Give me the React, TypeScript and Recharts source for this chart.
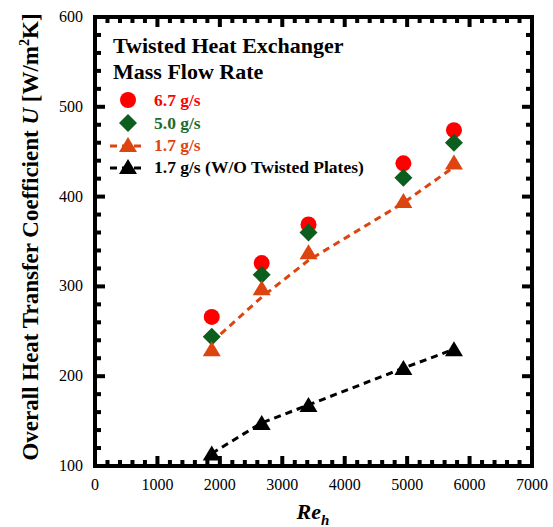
import React from 'react';
import { ComposedChart, Scatter, XAxis, YAxis } from 'recharts';

// ---- data ----
const reynolds = [1870, 2670, 3420, 4940, 5750];
const u67 = [266, 326, 369, 437, 474];
const u50 = [244, 313, 360, 421, 460];
const u17 = [230, 298, 338, 395, 438];
const u17Fit = [238, 288, 329, 393, 433];
const u17NoPlates = [114, 148, 168, 209, 230];

const xMajorTicks = [0, 1000, 2000, 3000, 4000, 5000, 6000, 7000];
const yMajorTicks = [100, 200, 300, 400, 500, 600];
const xMinorStep = 200;
const yMinorStep = 20;

const legendTitle = ['Twisted Heat Exchanger', 'Mass Flow Rate'];
const seriesNames = ['6.7 g/s', '5.0 g/s', '1.7 g/s', '1.7 g/s (W/O Twisted Plates)'];

// ---- styles ----
const FONT = '"Liberation Serif", "Times New Roman", serif';
const RED = '#ff0000';
const GREEN = '#0b5e1e';
const GREEN_TEXT = '#1d6b2a';
const ORANGE = '#dc4410';
const BLACK = '#000000';

const X_MIN = 0, X_MAX = 7000, Y_MIN = 100, Y_MAX = 600;

const buildTicks = (majors: number[], step: number) => {
  const out: number[] = [];
  const lo = majors[0];
  const hi = majors[majors.length - 1];
  for (let v = lo; v <= hi + 1e-9; v += step) out.push(Math.round(v));
  return out;
};
const xTicks = buildTicks(xMajorTicks, xMinorStep);
const yTicks = buildTicks(yMajorTicks, yMinorStep);

const toPoints = (ys: number[]) => reynolds.map((x, i) => ({ x, y: ys[i] }));
const pts67 = toPoints(u67);
const pts50 = toPoints(u50);
const pts17 = toPoints(u17);
const pts17Fit = toPoints(u17Fit);
const pts17No = toPoints(u17NoPlates);

// ---- markers ----
const Circle = ({ cx, cy, fill }: any) => <circle cx={cx} cy={cy} r={8} fill={fill} />;
const Diamond = ({ cx, cy, fill }: any) => (
  <polygon points={`${cx},${cy - 9} ${cx + 9},${cy} ${cx},${cy + 9} ${cx - 9},${cy}`} fill={fill} />
);
const Triangle = ({ cx, cy, fill }: any) => (
  <polygon points={`${cx},${cy - 8} ${cx + 9},${cy + 7} ${cx - 9},${cy + 7}`} fill={fill} />
);

// ---- tick labels ----
const isXMajor = (v: number) => xMajorTicks.includes(v);
const isYMajor = (v: number) => yMajorTicks.includes(v);

const BottomTick = (props: any) => {
  const { x, y, payload } = props;
  const v = payload.value;
  if (!isXMajor(v)) return <g />;
  return (
    <text x={x} y={y + 24} textAnchor="middle" fontFamily={FONT} fontSize={16} fill="#000">
      {v}
    </text>
  );
};
const LeftTick = (props: any) => {
  const { x, y, payload } = props;
  const v = payload.value;
  if (!isYMajor(v)) return <g />;
  return (
    <text x={x - 12} y={y + 5} textAnchor="end" fontFamily={FONT} fontSize={16} fill="#000">
      {v}
    </text>
  );
};

const axisLine = { stroke: '#000', strokeWidth: 4, strokeLinecap: 'square' as const };

// ---- layout ----
const W = 553;
const H = 527;
const MARGIN = { top: 16, right: 20, bottom: 0, left: 0 };
const Y_AXIS_W = 95;
const X_AXIS_H = 61;
const SIDE_AXIS = 1;
// plot rectangle produced by the settings above
const PLOT_L = MARGIN.left + Y_AXIS_W;
const PLOT_R = W - MARGIN.right - SIDE_AXIS;
const PLOT_T = MARGIN.top + SIDE_AXIS;
const PLOT_B = H - MARGIN.bottom - X_AXIS_H;
const px = (v: number) => PLOT_L + ((v - X_MIN) / (X_MAX - X_MIN)) * (PLOT_R - PLOT_L);
const py = (v: number) => PLOT_B - ((v - Y_MIN) / (Y_MAX - Y_MIN)) * (PLOT_B - PLOT_T);

const MAJOR_LEN = 10;
const MINOR_LEN = 6;
const TW = 4;

// inward tick marks on all four sides of the frame
const FrameTicks = () => (
  <g fill="#000">
    {xTicks.map((v) => {
      const len = isXMajor(v) ? MAJOR_LEN : MINOR_LEN;
      const x = px(v);
      return (
        <g key={`x${v}`}>
          <rect x={x - TW / 2} y={PLOT_B - len} width={TW} height={len} />
          <rect x={x - TW / 2} y={PLOT_T} width={TW} height={len} />
        </g>
      );
    })}
    {yTicks.map((v) => {
      const len = isYMajor(v) ? MAJOR_LEN : MINOR_LEN;
      const y = py(v);
      return (
        <g key={`y${v}`}>
          <rect x={PLOT_L} y={y - TW / 2} width={len} height={TW} />
          <rect x={PLOT_R - len} y={y - TW / 2} width={len} height={TW} />
        </g>
      );
    })}
  </g>
);

export default function App() {
  return (
    <div style={{ position: 'absolute', left: 0, top: 0, width: W, height: H, background: '#fff' }}>
      <ComposedChart width={W} height={H} margin={MARGIN}>
        <XAxis
          xAxisId="b"
          dataKey="x"
          type="number"
          orientation="bottom"
          domain={[X_MIN, X_MAX]}
          ticks={xTicks}
          interval={0}
          height={X_AXIS_H}
          tickSize={0}
          tickMargin={0}
          tickLine={false}
          axisLine={axisLine}
          tick={BottomTick}
        />
        <XAxis
          xAxisId="t"
          dataKey="x"
          type="number"
          orientation="top"
          domain={[X_MIN, X_MAX]}
          height={SIDE_AXIS}
          tickLine={false}
          tick={false}
          axisLine={axisLine}
        />
        <YAxis
          yAxisId="l"
          dataKey="y"
          type="number"
          orientation="left"
          domain={[Y_MIN, Y_MAX]}
          ticks={yTicks}
          interval={0}
          width={Y_AXIS_W}
          tickSize={0}
          tickMargin={0}
          tickLine={false}
          axisLine={axisLine}
          tick={LeftTick}
        />
        <YAxis
          yAxisId="r"
          dataKey="y"
          type="number"
          orientation="right"
          domain={[Y_MIN, Y_MAX]}
          width={SIDE_AXIS}
          tickLine={false}
          tick={false}
          axisLine={axisLine}
        />
        <Scatter
          name="frame"
          data={pts67}
          xAxisId="t"
          yAxisId="r"
          isAnimationActive={false}
          shape={() => <g />}
        />
        <Scatter
          name="1.7 g/s fit"
          data={pts17Fit}
          xAxisId="b"
          yAxisId="l"
          isAnimationActive={false}
          line={{ stroke: ORANGE, strokeWidth: 3, strokeDasharray: '7 5' }}
          lineType="joint"
          shape={() => <g />}
        />
        <Scatter
          name={seriesNames[3]}
          data={pts17No}
          xAxisId="b"
          yAxisId="l"
          isAnimationActive={false}
          line={{ stroke: BLACK, strokeWidth: 3, strokeDasharray: '7 5' }}
          lineType="joint"
          shape={(p: any) => <Triangle cx={p.cx} cy={p.cy} fill={BLACK} />}
        />
        <Scatter
          name={seriesNames[0]}
          data={pts67}
          xAxisId="b"
          yAxisId="l"
          isAnimationActive={false}
          shape={(p: any) => <Circle cx={p.cx} cy={p.cy} fill={RED} />}
        />
        <Scatter
          name={seriesNames[1]}
          data={pts50}
          xAxisId="b"
          yAxisId="l"
          isAnimationActive={false}
          shape={(p: any) => <Diamond cx={p.cx} cy={p.cy} fill={GREEN} />}
        />
        <Scatter
          name={seriesNames[2]}
          data={pts17}
          xAxisId="b"
          yAxisId="l"
          isAnimationActive={false}
          shape={(p: any) => <Triangle cx={p.cx} cy={p.cy} fill={ORANGE} />}
        />
      </ComposedChart>
      <svg
        width={W}
        height={H}
        style={{ position: 'absolute', left: 0, top: 0, pointerEvents: 'none' }}
        fontFamily={FONT}
      >
        <FrameTicks />
        {/* legend */}
        <text x={113} y={53} fontSize={22} fontWeight="bold" fill="#000">{legendTitle[0]}</text>
        <text x={113} y={79} fontSize={22} fontWeight="bold" fill="#000">{legendTitle[1]}</text>
        <Circle cx={128} cy={100} fill={RED} />
        <text x={154} y={106} fontSize={17.5} fontWeight="bold" fill={RED}>{seriesNames[0]}</text>
        <Diamond cx={128} cy={123} fill={GREEN} />
        <text x={154} y={129} fontSize={17.5} fontWeight="bold" fill={GREEN_TEXT}>{seriesNames[1]}</text>
        <line x1={110} y1={146} x2={146} y2={146} stroke={ORANGE} strokeWidth={3} strokeDasharray="7 5" />
        <Triangle cx={128} cy={145} fill={ORANGE} />
        <text x={154} y={151} fontSize={17.5} fontWeight="bold" fill={ORANGE}>{seriesNames[2]}</text>
        <line x1={110} y1={168} x2={146} y2={168} stroke={BLACK} strokeWidth={3} strokeDasharray="7 5" />
        <Triangle cx={128} cy={167} fill={BLACK} />
        <text x={154} y={173} fontSize={17.5} fontWeight="bold" fill={BLACK}>{seriesNames[3]}</text>
        {/* axis titles */}
        <text
          transform="translate(38,237) rotate(-90)"
          textAnchor="middle"
          fontSize={23}
          fontWeight="bold"
          fill="#000"
        >
          Overall Heat Transfer Coefficient <tspan fontStyle="italic">U</tspan> [W/m
          <tspan dy={-9} fontSize={14}>2</tspan>
          <tspan dy={9}>K]</tspan>
        </text>
        <text x={313} y={519} textAnchor="middle" fontWeight="bold" fontStyle="italic" fill="#000">
          <tspan fontSize={22}>Re</tspan>
          <tspan fontSize={15} dy={6}>h</tspan>
        </text>
      </svg>
    </div>
  );
}
